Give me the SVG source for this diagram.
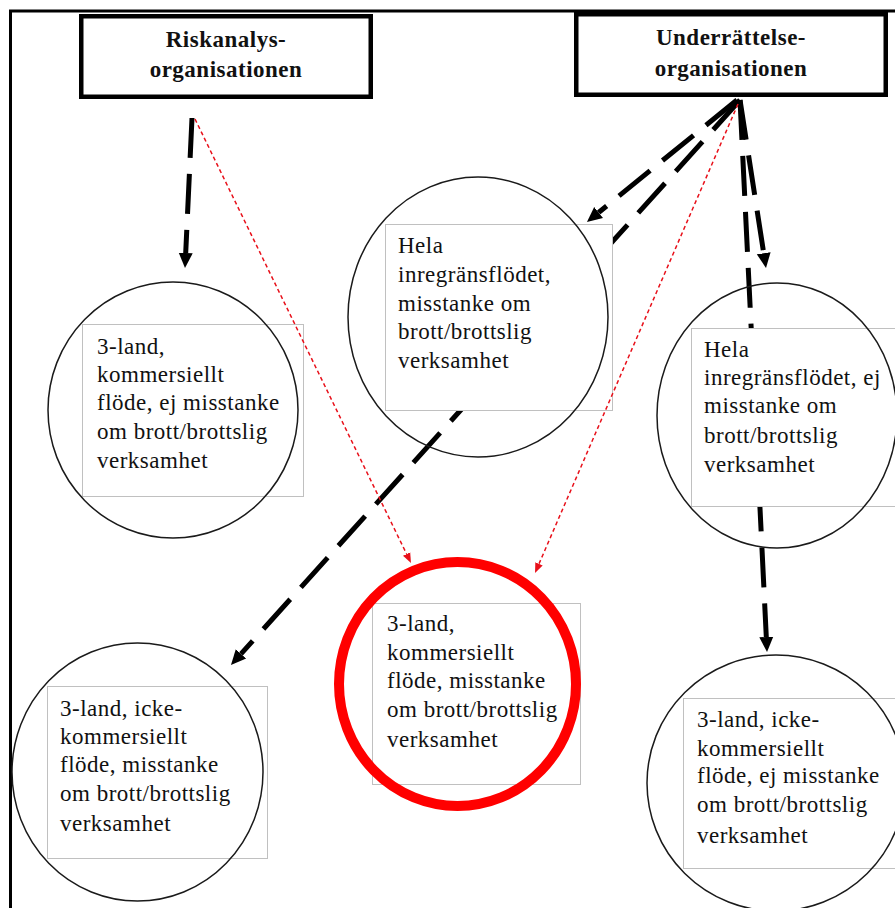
<svg xmlns="http://www.w3.org/2000/svg" width="895" height="908" viewBox="0 0 895 908">
<defs>
<style>
.frame{stroke:#000;stroke-width:3;fill:none}
.box{fill:#fff;stroke:#000;stroke-width:4.5}
.title{font-family:"Liberation Serif","Times New Roman",serif;font-weight:bold;font-size:23px;letter-spacing:0.5px;fill:#111;text-anchor:middle}
.txt{font-family:"Liberation Serif","Times New Roman",serif;font-size:23px;letter-spacing:0.5px;fill:#111}
.tb{fill:#fff;stroke:#c0c0c0;stroke-width:1}
.circ{fill:none;stroke:#1a1a1a;stroke-width:1.5}
.red{fill:none;stroke:#ff0000;stroke-width:10}
.blk{fill:none;stroke:#000;stroke-width:5;stroke-dasharray:40 16;marker-end:url(#ab)}
.rd{fill:none;stroke:#e8101a;stroke-width:1.5;stroke-dasharray:4 3;marker-end:url(#ar)}
</style>
<marker id="ab" markerUnits="userSpaceOnUse" markerWidth="16" markerHeight="16" refX="0" refY="7" orient="auto" viewBox="0 0 16 14">
<path d="M0,0 L15,7 L0,14 z" fill="#000"/>
</marker>
<marker id="ar" markerUnits="userSpaceOnUse" markerWidth="11" markerHeight="9" refX="0" refY="4" orient="auto" viewBox="0 0 11 8">
<path d="M0,0 L10,4 L0,8 z" fill="#e8101a"/>
</marker>
</defs>
<rect width="895" height="908" fill="#fff"/>
<path class="frame" d="M10.5,908 V11 H895"/>

<g id="connectors">
<path class="blk" d="M192,118 L185.7,253"/>
<path class="blk" d="M737,100 L598.6,212.5"/>
<path class="blk" d="M740,100 L241,653.9"/>
<path class="blk" d="M740,100 L763.7,253.2"/>
<path class="blk" d="M740,100 L766.3,637"/>
</g>

<g id="riskanalys">
<rect class="box" x="81.25" y="16.25" width="289.5" height="80.5"/>
<text class="title" x="226" y="47">Riskanalys-</text>
<text class="title" x="226" y="77">organisationen</text>
</g>
<g id="underrattelse">
<rect class="box" x="576.25" y="14.25" width="309.5" height="80.5"/>
<text class="title" x="731" y="45">Underrättelse-</text>
<text class="title" x="731" y="76">organisationen</text>
</g>

<g id="n1">
<rect class="tb" x="82.5" y="324.5" width="221" height="172"/>
<ellipse class="circ" cx="173" cy="410" rx="125" ry="128"/>
<text class="txt" x="97" y="354">3-land,</text>
<text class="txt" x="97" y="382">kommersiellt</text>
<text class="txt" x="97" y="410">flöde, ej misstanke</text>
<text class="txt" x="97" y="439">om brott/brottslig</text>
<text class="txt" x="97" y="468">verksamhet</text>
</g>
<g id="n2">
<rect class="tb" x="385.5" y="224.5" width="227" height="186"/>
<ellipse class="circ" cx="478" cy="317" rx="130" ry="140"/>
<text class="txt" x="398" y="253">Hela</text>
<text class="txt" x="398" y="282">inregränsflödet,</text>
<text class="txt" x="398" y="311">misstanke om</text>
<text class="txt" x="398" y="339">brott/brottslig</text>
<text class="txt" x="398" y="368">verksamhet</text>
</g>
<g id="n3">
<rect class="tb" x="691.5" y="328.5" width="220" height="178"/>
<ellipse class="circ" cx="777" cy="415.5" rx="120" ry="132.5"/>
<text class="txt" x="704" y="357">Hela</text>
<text class="txt" x="704" y="385">inregränsflödet, ej</text>
<text class="txt" x="704" y="413">misstanke om</text>
<text class="txt" x="704" y="443">brott/brottslig</text>
<text class="txt" x="704" y="472">verksamhet</text>
</g>
<g id="n4">
<rect class="tb" x="47.5" y="686.5" width="220" height="172"/>
<ellipse class="circ" cx="137.5" cy="772" rx="125.5" ry="129"/>
<text class="txt" x="60" y="716">3-land, icke-</text>
<text class="txt" x="60" y="744">kommersiellt</text>
<text class="txt" x="60" y="772">flöde, misstanke</text>
<text class="txt" x="60" y="801">om brott/brottslig</text>
<text class="txt" x="60" y="831">verksamhet</text>
</g>
<g id="n5">
<rect class="tb" x="372.5" y="603.5" width="208" height="181"/>
<ellipse class="red" cx="457.5" cy="684" rx="118.5" ry="122"/>
<text class="txt" x="387" y="631">3-land,</text>
<text class="txt" x="387" y="660">kommersiellt</text>
<text class="txt" x="387" y="688">flöde, misstanke</text>
<text class="txt" x="387" y="717">om brott/brottslig</text>
<text class="txt" x="387" y="747">verksamhet</text>
</g>
<g id="n6">
<rect class="tb" x="683.5" y="698.5" width="230" height="170"/>
<ellipse class="circ" cx="776" cy="783" rx="129" ry="128"/>
<text class="txt" x="697" y="727">3-land, icke-</text>
<text class="txt" x="697" y="756">kommersiellt</text>
<text class="txt" x="697" y="783">flöde, ej misstanke</text>
<text class="txt" x="697" y="812">om brott/brottslig</text>
<text class="txt" x="697" y="843">verksamhet</text>
</g>

<g id="connectors-red">
<path class="rd" d="M195,119 L406.6,554"/>
<path class="rd" d="M738,104 L539,563.8"/>
</g>
</svg>
